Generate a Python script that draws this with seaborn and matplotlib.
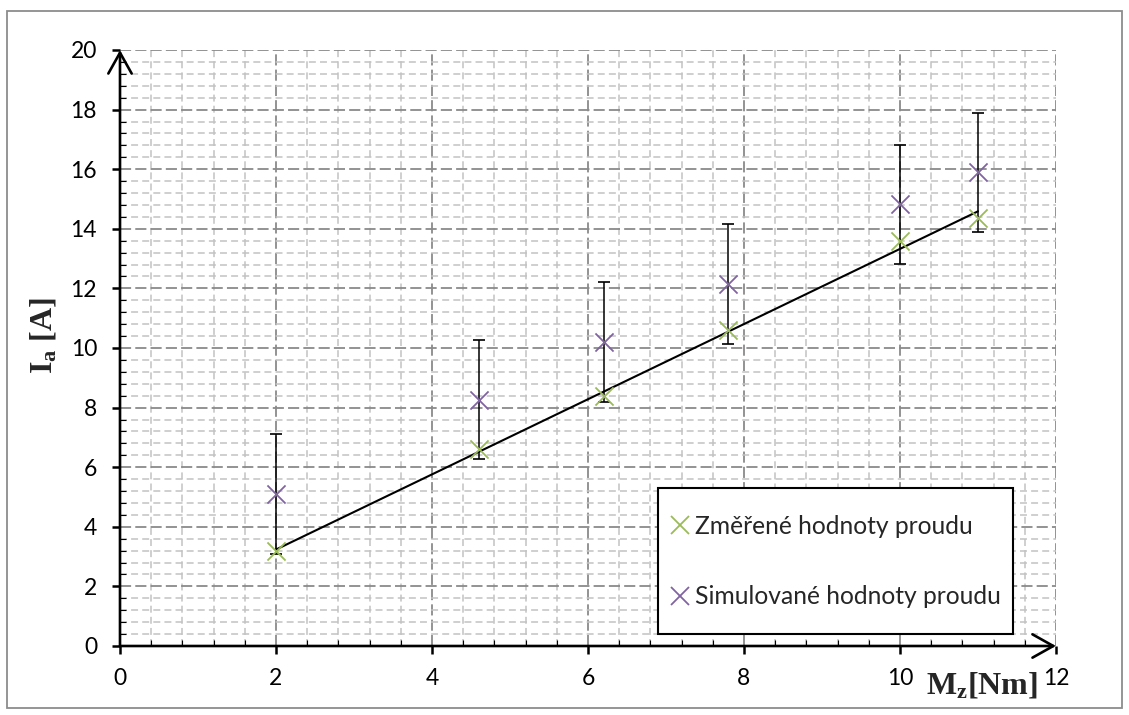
import numpy as np
import pandas as pd
import matplotlib
matplotlib.use("Agg")
import matplotlib.pyplot as plt
from matplotlib.ticker import MultipleLocator, FixedLocator
from matplotlib.lines import Line2D
from matplotlib.patches import Rectangle
import seaborn as sns

# ---- data ----
torque = [2, 4.6, 6.2, 7.8, 10, 11]                 # M_z [Nm]
measured = [3.2, 6.6, 8.4, 10.6, 13.6, 14.35]       # I_a measured [A]
simulated = [5.1, 8.26, 10.2, 12.15, 14.82, 15.9]   # I_a simulated [A]
sim_error = [2, 2, 2, 2, 2, 2]
x_ticks = [0, 2, 4, 6, 8, 10, 12]
y_ticks = [0, 2, 4, 6, 8, 10, 12, 14, 16, 18, 20]
series_labels = ["Změřené hodnoty proudu", "Simulované hodnoty proudu"]

green = "#9bbb59"
purple = "#8064a2"

sns.set_style("white")
plt.rcParams["font.family"] = ["Lato", "DejaVu Sans"]
plt.rcParams["lines.scale_dashes"] = False
plt.rcParams["mathtext.fontset"] = "custom"
plt.rcParams["mathtext.bf"] = "Liberation Serif:bold"
plt.rcParams["mathtext.rm"] = "Liberation Serif:bold"
plt.rcParams["mathtext.it"] = "Liberation Serif:bold"

W, H = 1129, 715
fig = plt.figure(figsize=(W / 100, H / 100), dpi=100)
ax = fig.add_axes([120 / W, 1 - 646 / H, 936 / W, 596 / H])

df = pd.DataFrame({"M": torque, "meas": measured, "sim": simulated, "err": sim_error})

# error bars on simulated values
ax.errorbar(df["M"], df["sim"], yerr=df["err"], fmt="none", ecolor="black",
            elinewidth=1.1, capsize=4.3, capthick=1.2, zorder=3)
# linear trend of measured values
sns.regplot(data=df, x="M", y="meas", scatter=False, ci=None, truncate=True,
            color="black", line_kws={"lw": 1.5, "zorder": 3}, ax=ax)
sns.scatterplot(data=df, x="M", y="meas", marker="x", s=170, color=green,
                linewidth=1.3, ax=ax, zorder=4, legend=False)
sns.scatterplot(data=df, x="M", y="sim", marker="x", s=170, color=purple,
                linewidth=1.3, ax=ax, zorder=4, legend=False)

ax.set_xlim(x_ticks[0], x_ticks[-1])
ax.set_ylim(y_ticks[0], y_ticks[-1])
ax.xaxis.set_major_locator(FixedLocator(x_ticks))
ax.yaxis.set_major_locator(FixedLocator(y_ticks))
ax.xaxis.set_minor_locator(MultipleLocator(0.4))
ax.yaxis.set_minor_locator(MultipleLocator(0.4))
ax.set_xticklabels([str(t) for t in x_ticks])
ax.set_yticklabels([str(t) for t in y_ticks])
ax.set_xlabel("")
ax.set_ylabel("")

ax.grid(which="major", color="#8a8a8a", lw=1.3, linestyle=(0, (8, 3)), zorder=0)
ax.grid(which="minor", color="#c2c2c2", lw=1.1, linestyle=(0, (5, 3)), zorder=0)
ax.set_axisbelow(True)

for s in ax.spines.values():
    s.set_visible(False)

ax.tick_params(which="both", bottom=True, left=True, top=False, right=False, colors="black")
ax.tick_params(which="major", direction="out", length=5.5, width=1.8, labelsize=16.5)
ax.tick_params(axis="y", which="major", pad=11)
ax.tick_params(axis="x", which="major", pad=10.5)
ax.tick_params(which="minor", direction="in", length=4.3, width=0.8)

# axes with arrow heads
xmin, xmax = ax.get_xlim()
ymin, ymax = ax.get_ylim()
aprops = dict(arrowstyle="->,head_length=0.75,head_width=0.42", lw=1.9,
              color="black", mutation_scale=20, shrinkA=0, shrinkB=0)
ax.annotate("", xy=(xmin, ymax), xytext=(xmin, ymin), arrowprops=aprops,
            annotation_clip=False, zorder=6)
ax.annotate("", xy=(xmax, ymin), xytext=(xmin, ymin), arrowprops=aprops,
            annotation_clip=False, zorder=6)

# legend box + entries
rect = Rectangle((658 / W, 1 - 634 / H), 355 / W, 146 / H, transform=fig.transFigure,
                 facecolor="white", edgecolor="black", lw=1.5, zorder=4.5, clip_on=False)
ax.add_artist(rect)
handles = [Line2D([], [], marker="x", linestyle="none", color=c, markersize=13,
                  markeredgewidth=1.3) for c in (green, purple)]
leg = ax.legend(handles, series_labels, loc="center left",
                bbox_to_anchor=(668 / W, 1 - 561.5 / H), bbox_transform=fig.transFigure,
                frameon=False, fontsize=17.7, labelspacing=1.95, handlelength=1.0,
                handletextpad=0.1, borderpad=0, borderaxespad=0)
leg.set_zorder(5)

# axis titles
fig.text(52 / W, 1 - 336 / H, r"I$_\mathbf{a}$ [A]", rotation=90, rotation_mode="anchor",
         ha="center", va="baseline", fontsize=23, fontweight="bold",
         family="Liberation Serif")
fig.text(926 / W, 1 - 693 / H, r"M$_\mathbf{z}$[Nm]", ha="left", va="baseline",
         fontsize=23, fontweight="bold", family="Liberation Serif")

# outer chart frame
fig.add_artist(Rectangle((7 / W, 1 - 708 / H), 1115 / W, 697 / H, transform=fig.transFigure,
                         fill=False, edgecolor="#8c8c8c", lw=1.3))

fig.savefig("out.png", dpi=100)
